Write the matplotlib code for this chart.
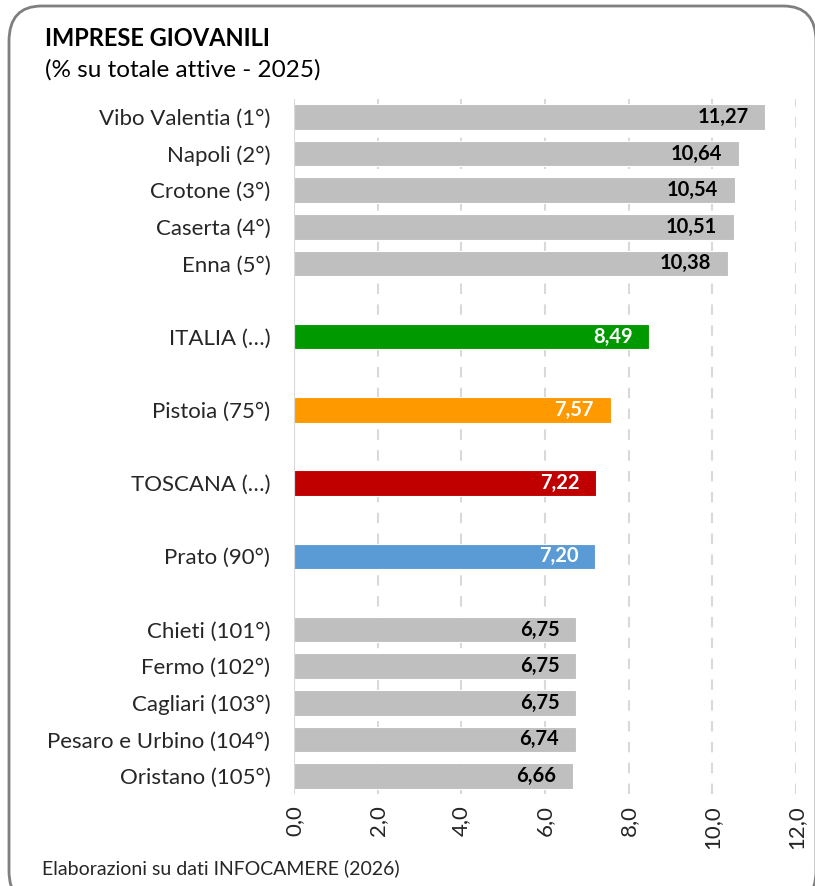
import matplotlib
matplotlib.use("Agg")
import matplotlib.pyplot as plt
from matplotlib.patches import FancyBboxPatch
import numpy as np

plt.rcParams['font.family'] = ['Lato', 'DejaVu Sans']

top_labels = ["Vibo Valentia (1°)", "Napoli (2°)", "Crotone (3°)", "Caserta (4°)", "Enna (5°)"]
top_values = [11.27, 10.64, 10.54, 10.51, 10.38]
mid_labels = ["ITALIA (…)", "Pistoia (75°)", "TOSCANA (…)", "Prato (90°)"]
mid_values = [8.49, 7.57, 7.22, 7.20]
mid_colors = ["#009900", "#ff9900", "#c00000", "#5b9bd5"]
bot_labels = ["Chieti (101°)", "Fermo (102°)", "Cagliari (103°)", "Pesaro e Urbino (104°)", "Oristano (105°)"]
bot_values = [6.75, 6.75, 6.75, 6.74, 6.66]
gray = "#bfbfbf"
xticks = [0, 2, 4, 6, 8, 10, 12]

# groups: top block, each mid item alone, bottom block
groups = [(top_labels, top_values, [gray] * 5)]
for l, v, c in zip(mid_labels, mid_values, mid_colors):
    groups.append(([l], [v], [c]))
groups.append((bot_labels, bot_values, [gray] * 5))

labels, values, colors, pos = [], [], [], []
p = 0
for gi, (ls, vs, cs) in enumerate(groups):
    if gi > 0:
        p += 1
    for l, v, c in zip(ls, vs, cs):
        labels.append(l); values.append(v); colors.append(c); pos.append(p)
        p += 1
nslots = p

fig = plt.figure(figsize=(8.15, 8.86), dpi=100)
ax = fig.add_axes([0.3607, 0.1035, 0.9767 - 0.3607, 0.8886 - 0.1035])

ax.barh(pos, values, height=0.7, color=colors, edgecolor="white", linewidth=0.8, zorder=3)
ax.set_ylim(nslots - 0.5, -0.5)
ax.set_xlim(0, 12)
ax.set_yticks(pos)
ax.set_yticklabels(labels, fontsize=16, color="#262626")
ax.set_xticks(xticks)
ax.set_xticklabels([f"{t:.1f}".replace(".", ",") for t in xticks], rotation=90, fontsize=16, color="#262626")
ax.tick_params(axis="both", length=0)
ax.tick_params(axis="x", pad=8)
ax.tick_params(axis="y", pad=17)
for s in ax.spines.values():
    s.set_visible(False)
for t in xticks[1:]:
    ax.axvline(t, color="#d9d9d9", linewidth=1.5, linestyle=(0, (5, 5)), zorder=1)
ax.axvline(0, color="#d9d9d9", linewidth=1.5, zorder=4)

for y, v, c in zip(pos, values, colors):
    tc = "black" if c == gray else "white"
    ax.text(v - 0.4, y, f"{v:.2f}".replace(".", ","), ha="right", va="center",
            fontsize=14.5, fontweight="bold", color=tc, zorder=5)

fig.text(45 / 815, 1 - 38 / 886, "IMPRESE GIOVANILI", fontsize=17, fontweight="bold",
         ha="left", va="center", color="black")
fig.text(45 / 815, 1 - 70 / 886, "(% su totale attive - 2025)", fontsize=17.5,
         ha="left", va="center", color="black")
fig.text(42 / 815, 1 - 868 / 886, "Elaborazioni su dati INFOCAMERE (2026)", fontsize=14,
         ha="left", va="center", color="#262626")

box = FancyBboxPatch((9 / 815, -20 / 886), 1 - 18 / 815 + 10 / 815, 1 - 6 / 886 + 20 / 886,
                     boxstyle="round,pad=0,rounding_size=0.04", transform=fig.transFigure,
                     facecolor="none", edgecolor="#7f7f7f", linewidth=2, clip_on=False)
fig.patches.append(box)

fig.savefig("out.png", dpi=100)
